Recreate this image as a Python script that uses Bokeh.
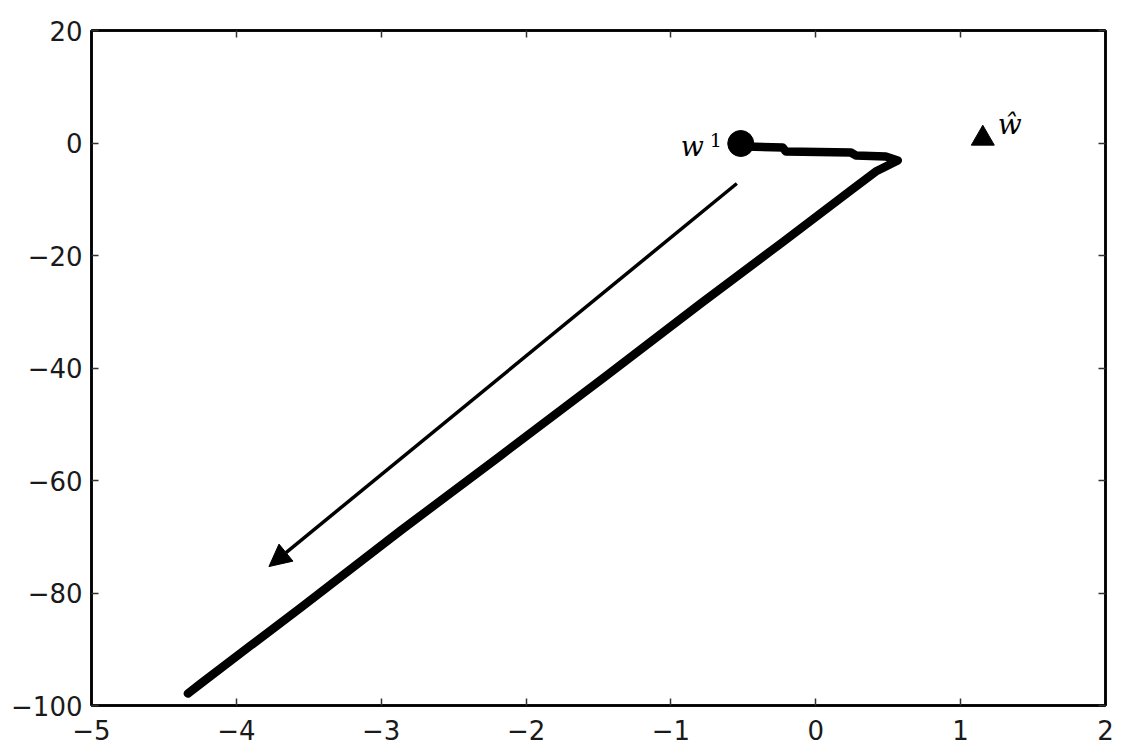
from bokeh.plotting import figure
from bokeh.models import Range1d, FixedTicker, LinearAxis, Arrow, NormalHead
from bokeh.core.properties import value
from bokeh.embed import file_html
from bokeh.resources import INLINE

# ---- data ----
path_x = [-0.518, -0.483, -0.228, -0.207, 0.242, 0.276, 0.483, 0.566, 0.414, 0.242,
          -0.242, -0.794, -1.463, -2.175, -2.865, -3.555, -3.900, -4.245, -4.335]
path_y = [-0.09, -0.62, -0.80, -1.51, -1.69, -2.22, -2.40, -3.11, -5.07, -8.44,
          -17.87, -28.53, -41.69, -55.56, -68.89, -82.58, -89.33, -96.09, -97.87]

start_x = [-0.518]
start_y = [-0.09]
target_x = [1.153]
target_y = [0.8]

arrow_start = (-0.545, -7.2)
arrow_end = (-3.775, -75.3)

x_ticks = [-5, -4, -3, -2, -1, 0, 1, 2]
x_tick_labels = ["\u22125", "\u22124", "\u22123", "\u22122", "\u22121", "0", "1", "2"]
y_ticks = [-100, -80, -60, -40, -20, 0, 20]
y_tick_labels = ["\u2212100", "\u221280", "\u221260", "\u221240", "\u221220", "0", "20"]

W, H = 1130, 752
p = figure(width=W, height=H, output_backend="svg", toolbar_location=None,
           x_range=Range1d(-5, 2), y_range=Range1d(-100, 20),
           x_axis_location=None, y_axis_location=None,
           min_border_left=91, min_border_right=25, min_border_top=30, min_border_bottom=47)
p.grid.visible = False
p.outline_line_color = "black"
p.outline_line_width = 2.5
p.background_fill_color = "white"
p.border_fill_color = "white"

def style_axis(ax, ticks, labels, show):
    ax.ticker = FixedTicker(ticks=ticks)
    ax.major_tick_in = 7
    ax.major_tick_out = 0
    ax.minor_tick_line_color = None
    ax.major_tick_line_color = "#333333"
    ax.major_tick_line_width = 1.5
    ax.axis_line_color = "black"
    ax.axis_line_width = 2.5
    if show:
        ax.major_label_overrides = {t: l for t, l in zip(ticks, labels)}
        ax.major_label_text_font = "DejaVu Sans"
        ax.major_label_text_font_size = "26px"
        ax.major_label_text_color = "#1a1a1a"
    else:
        ax.major_label_overrides = {t: "" for t in ticks}
        ax.major_label_standoff = 0

xb = LinearAxis(); style_axis(xb, x_ticks, x_tick_labels, True); xb.major_label_standoff = 14
yl = LinearAxis(); style_axis(yl, y_ticks, y_tick_labels, True); yl.major_label_standoff = 9
xt = LinearAxis(); style_axis(xt, x_ticks, x_tick_labels, False)
yr = LinearAxis(); style_axis(yr, y_ticks, y_tick_labels, False)
p.add_layout(xb, "below")
p.add_layout(yl, "left")
p.add_layout(xt, "above")
p.add_layout(yr, "right")

# trajectory
p.line(path_x, path_y, line_color="black", line_width=8.5, line_join="round", line_cap="round")

# start point and target
p.scatter(start_x, start_y, marker="circle", size=26, fill_color="black", line_color="black")
p.scatter(target_x, target_y, marker="triangle", size=23, fill_color="black", line_color="black")

# arrow
p.add_layout(Arrow(end=NormalHead(size=22, fill_color="black", line_color="black"),
                   x_start=arrow_start[0], y_start=arrow_start[1],
                   x_end=arrow_end[0], y_end=arrow_end[1],
                   line_color="black", line_width=3.5))

# labels
p.text(start_x, start_y, text=["w"], text_font=value("DejaVu Serif"), text_font_style="italic",
       text_font_size="27px", text_align="left", text_baseline="alphabetic",
       x_offset=-60, y_offset=3, text_color="black")
p.text(start_x, start_y, text=["1"], text_font=value("DejaVu Serif"),
       text_font_size="19px", text_align="left", text_baseline="alphabetic",
       x_offset=-31, y_offset=-4, text_color="black")
p.text(target_x, target_y, text=["\u0175"], text_font=value("DejaVu Serif"), text_font_style="italic",
       text_font_size="28px", text_align="left", text_baseline="alphabetic",
       x_offset=15, y_offset=-14, text_color="black")

open("out.html", "w").write(file_html(p, INLINE))
